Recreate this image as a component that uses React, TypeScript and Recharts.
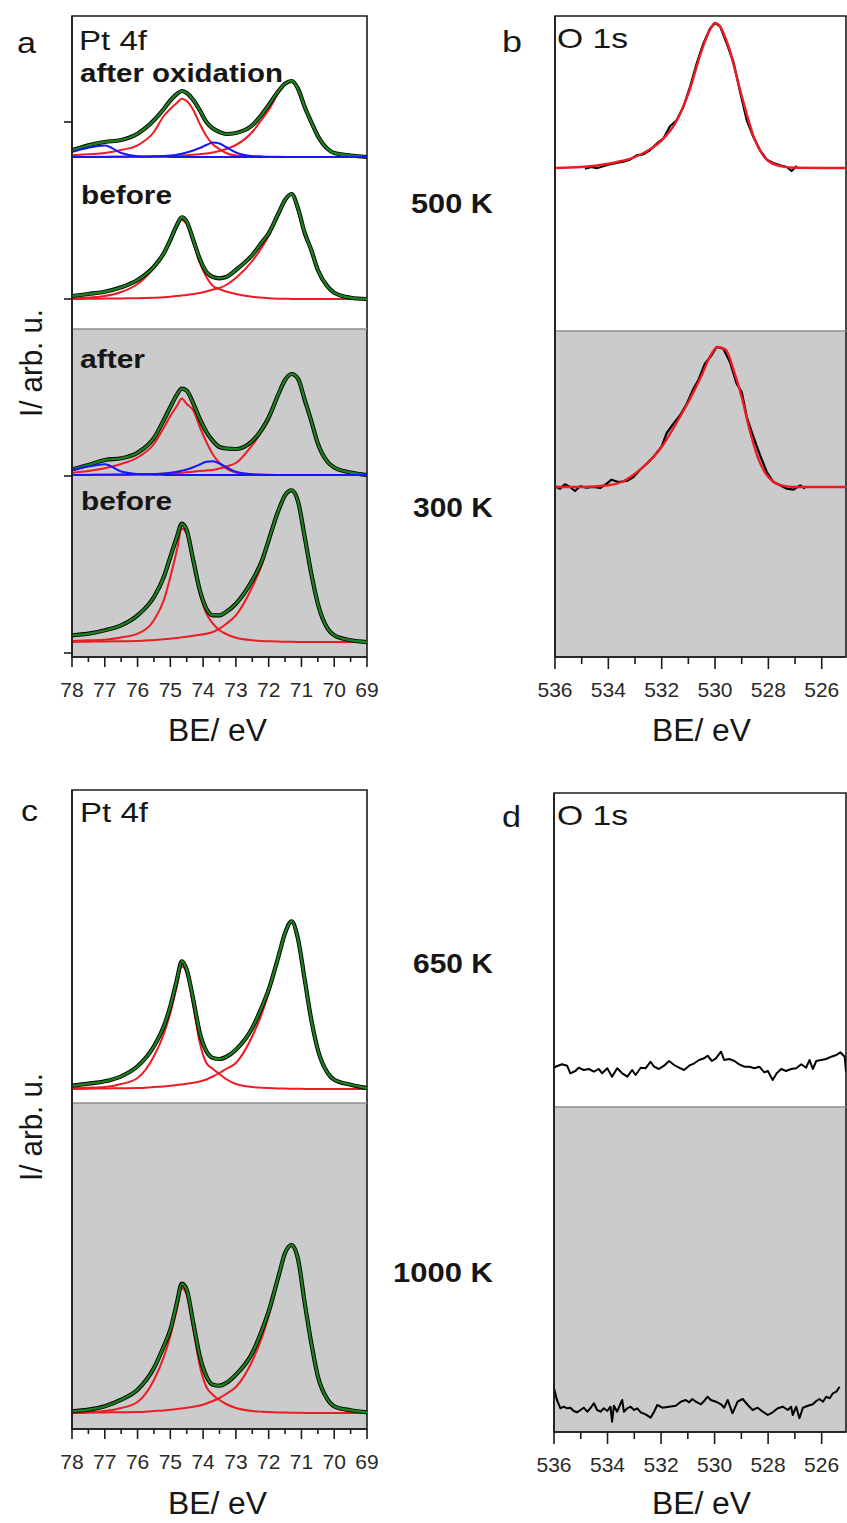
import { LineChart, Line, XAxis, YAxis, ReferenceArea, ReferenceLine } from 'recharts'

const FONT = '"Liberation Sans", Arial, sans-serif'

// ---- Pt 4f energy grid (eV) and tick marks ----
const PT_E = [78, 77.5, 77, 76.5, 76, 75.5, 75.2, 75, 74.8, 74.65, 74.5, 74.3, 74.1, 73.9, 73.7, 73.5, 73.3, 73, 72.5, 72.2, 72, 71.7, 71.5, 71.3, 71.1, 70.9, 70.7, 70.5, 70.2, 70, 69.5, 69]
const PT_TICKS = [78, 77.5, 77, 76.5, 76, 75.5, 75, 74.5, 74, 73.5, 73, 72.5, 72, 71.5, 71, 70.5, 70, 69.5, 69]
const O_TICKS = [536, 535, 534, 533, 532, 531, 530, 529, 528, 527, 526]

// ---- panel a, 500 K after oxidation ----
const A_OX_BASE = 500
const A_OX_SUM = [6.7, 11.7, 15, 17, 23.3, 36.7, 48, 56.5, 63, 66, 64, 57, 46.7, 35, 28.5, 25, 23, 24, 31.7, 43, 52, 66, 73.3, 76, 68, 50, 35, 21, 8, 4, 1.5, 0]
const A_OX_P52 = [1.7, 2.8, 4, 7, 11.7, 25, 41, 48, 54, 58.3, 56, 47, 33, 21, 12.5, 8, 4, 1.5, 0.7, 0.4, 0.3, 0.2, 0.1, 0, 0, 0, 0, 0, 0, 0, 0, 0]
const A_OX_P72 = [0, 0.1, 0.2, 0.3, 0.5, 0.7, 0.9, 1, 1.3, 1.5, 1.8, 2.2, 2.8, 3.5, 4.5, 6, 8, 12, 25, 38, 47, 64, 72, 75, 67.5, 49.5, 34.5, 20.5, 7.8, 3.8, 1.3, 0]
const A_OX_OA = [5, 9.3, 11.5, 4, 0.8, 0.3, 0.2, 0.1, 0.1, 0, 0, 0, 0, 0, 0, 0, 0, 0, 0, 0, 0, 0, 0, 0, 0, 0, 0, 0, 0, 0, 0, 0]
const A_OX_OB = [0, 0.1, 0.1, 0.2, 0.3, 0.7, 1, 1.5, 2.3, 3.3, 4.5, 6.5, 9, 12, 14.5, 13.5, 10, 4.5, 0.8, 0.3, 0.1, 0, 0, 0, 0, 0, 0, 0, 0, 0, 0, 0]

// ---- panel a, 500 K before ----
const A_BF_BASE = 358
const A_BF_SUM = [3, 5, 7.3, 11.7, 19, 32.3, 45.7, 59, 74, 81.7, 77.3, 59, 40, 27, 22, 20.7, 22, 29, 44, 57, 65.7, 85.7, 99, 105, 90, 66, 49, 29, 12.3, 6.3, 1.3, 0]
const A_BF_P52 = [0.5, 1.5, 3, 7, 15, 31, 44, 57, 72, 79, 75, 56, 36, 22, 13, 10, 7.5, 5, 2.3, 1.3, 0.7, 0.3, 0.2, 0.1, 0, 0, 0, 0, 0, 0, 0, 0]
const A_BF_P72 = [0, 0.2, 0.4, 0.6, 0.7, 1.2, 1.7, 2.3, 3, 3.5, 4, 5, 6, 7.5, 9.5, 11, 14, 21, 38, 52, 63, 84, 98, 104.5, 89.5, 65.5, 48.5, 28.7, 12, 6, 1.2, 0]

// ---- panel a, 300 K after oxidation ----
const B_OX_BASE = 182
const B_OX_SUM = [5.7, 10, 15, 16.7, 22.3, 37, 55, 68, 80.4, 86.3, 84.3, 71.6, 56, 43, 34, 28, 26.5, 26, 34, 46, 57.5, 81, 95, 101, 96, 75, 54, 31.5, 13, 7.5, 2.5, 0]
const B_OX_P52 = [2.3, 4, 6.7, 11, 17.5, 31, 47.3, 59, 69, 76.5, 71, 64.5, 48, 33, 20.5, 12, 6.5, 2.5, 0.7, 0.3, 0.2, 0.1, 0, 0, 0, 0, 0, 0, 0, 0, 0, 0]
const B_OX_P72 = [0, 0.2, 0.3, 0.5, 0.7, 1, 1.3, 1.6, 2, 2.3, 2.7, 3.3, 4, 4.6, 5, 6.5, 8.5, 12, 30, 44, 55, 80, 94, 100, 95.5, 74.5, 53.7, 31.3, 12.8, 7.3, 2.3, 0]
const B_OX_OA = [5, 8.5, 10.7, 3.5, 1, 0.3, 0.1, 0, 0, 0, 0, 0, 0, 0, 0, 0, 0, 0, 0, 0, 0, 0, 0, 0, 0, 0, 0, 0, 0, 0, 0, 0]
const B_OX_OB = [0, 0.1, 0.2, 0.3, 0.5, 1, 1.5, 2.3, 3.3, 4.3, 5.5, 7.8, 10.5, 13.3, 13.8, 11.5, 8, 3.3, 0.7, 0.3, 0.1, 0, 0, 0, 0, 0, 0, 0, 0, 0, 0, 0]

// ---- panel a, 300 K before ----
const B_BF_BASE = 15
const B_BF_SUM = [6.7, 8.3, 11.7, 16.7, 26.7, 45, 65, 85, 105, 118.3, 111.7, 81.7, 51.7, 33.3, 26.7, 26.7, 30, 38.3, 61.7, 81.7, 101.7, 131.7, 146.7, 151.7, 140, 105, 68.3, 38.3, 13.3, 6.7, 1.7, 0]
const B_BF_P52 = [1, 1.7, 2.3, 4.5, 8.3, 21.7, 41.7, 65, 91.7, 113.3, 108.3, 78.3, 48.3, 28.3, 18.3, 11.7, 8, 4.3, 1.7, 1, 0.7, 0.4, 0.3, 0.2, 0.1, 0, 0, 0, 0, 0, 0, 0]
const B_BF_P72 = [0, 0.3, 0.6, 0.8, 1, 2, 2.7, 3.3, 4, 4.7, 5.3, 6.2, 7.2, 8.3, 10, 13.3, 18, 26.7, 55, 78, 99, 130, 146, 151.5, 140, 105, 68.3, 38.3, 13.3, 6.7, 1.7, 0]

// ---- panel c, 650 K and 1000 K ----
const C650_BASE = 340
const C650_SUM = [3.3, 5.3, 7.7, 12.7, 22.7, 42.7, 62.7, 82.7, 109.3, 127.7, 119.3, 89.3, 56, 37.7, 31, 30, 32, 39.3, 61, 82.7, 99.3, 132.7, 156, 167.7, 149.3, 109.3, 69.3, 39.3, 16, 9.3, 4.3, 1]
const C650_P52 = [0.7, 1.3, 2, 5, 11, 32.7, 55, 76, 102.7, 122.7, 116, 82.7, 46, 26, 20, 15, 10, 5, 2, 1.3, 1, 0.6, 0.4, 0.3, 0.2, 0.1, 0, 0, 0, 0, 0, 0]
const C650_P72 = [0, 0.3, 0.5, 0.8, 1, 2, 2.6, 3.3, 4, 4.6, 5.2, 6.2, 7.5, 9.5, 12.5, 16, 20, 26, 52.7, 76, 96, 131, 155, 167, 148.5, 108.5, 68.5, 38.5, 15.3, 8.6, 3.6, 0.5]

const C1000_BASE = 16
const C1000_SUM = [1.7, 3.3, 6.7, 13.3, 23.3, 45, 66.7, 83.3, 110, 129.3, 123.3, 90, 56.7, 36.7, 28.3, 27.3, 30, 38.3, 60, 83.3, 101.7, 136.7, 160, 168, 153.3, 110, 70, 36.7, 13.3, 6.7, 2.7, 0.7]
const C1000_P52 = [0.5, 1, 2, 5, 11, 33, 56, 77, 104, 125, 118, 84, 47, 26, 18, 13, 9, 5, 2, 1.3, 1, 0.6, 0.4, 0.3, 0.2, 0.1, 0, 0, 0, 0, 0, 0]
const C1000_P72 = [0, 0.3, 0.5, 0.8, 1, 2, 2.6, 3.3, 4, 4.6, 5.2, 6.2, 7.5, 9.5, 12, 15, 19, 26, 52, 76, 97, 134, 158, 167, 152.5, 109.3, 69.3, 36, 12.7, 6, 2, 0]

// ---- panel b, O 1s at 500 K / 300 K ----
const O500_BASE = 489
const O500_FIT_E = [536, 535, 534, 533.5, 533, 532.5, 532, 531.5, 531, 530.5, 530.2, 530, 529.8, 529.5, 529, 528.5, 528.2, 528, 527.5, 527, 525.09]
const O500_FIT = [0, 1, 4.3, 7, 11, 17.7, 27.7, 44.3, 74.3, 117.7, 137.7, 145, 141, 122, 72, 27.7, 12.7, 7, 1.7, 0.3, 0]
const O500_E = [534.88, 534.63, 534.44, 534.19, 533.94, 533.69, 533.44, 533.19, 532.94, 532.69, 532.44, 532.19, 531.94, 531.69, 531.44, 531.19, 530.94, 530.69, 530.44, 530.19, 530, 529.81, 529.56, 529.31, 529.06, 528.81, 528.56, 528.31, 528.06, 527.81, 527.56, 527.31, 527.13, 526.94]
const O500_RAW = [-0.7, 1, -0.3, 1.7, 3.7, 5, 6.3, 8.3, 12.7, 13.7, 17.7, 24.3, 29.3, 41.7, 47.7, 61, 81, 104.3, 124.3, 139.3, 145, 141.7, 124.3, 106, 76, 47.7, 31, 17.7, 8.3, 5, 2.7, 1, -3, 2]

const O300_BASE = 170
const O300_FIT_E = [536, 535, 534, 533.5, 533, 532.5, 532, 531.5, 531, 530.5, 530.2, 529.9, 529.6, 529.3, 529, 528.7, 528.4, 528.1, 527.8, 527.5, 527, 525.09]
const O300_FIT = [0, 0, 1.7, 5, 13.3, 25, 40, 61.7, 85, 111.7, 130, 140, 137.3, 116.7, 90, 56.7, 30, 13.3, 5, 1.7, 0, 0]
const O300_E = [536, 535.81, 535.63, 535.44, 535.25, 535.06, 534.81, 534.56, 534.31, 534.06, 533.88, 533.63, 533.31, 533.06, 532.81, 532.56, 532.31, 532, 531.81, 531.56, 531.31, 531.06, 530.81, 530.63, 530.38, 530.13, 529.94, 529.69, 529.44, 529.19, 529, 528.81, 528.56, 528.31, 528.06, 527.81, 527.56, 527.31, 527.06, 526.81, 526.63]
const O300_RAW = [0.7, -1.7, 2.7, 0, -4, 0.7, -0.7, 0, -1, 3.3, 7.3, 5, 6, 10, 17.3, 23.3, 30, 40.7, 54, 63.3, 71.7, 83.3, 98.3, 106.7, 123.3, 131.7, 140, 138.3, 125, 103.3, 95, 70, 50, 31.7, 15, 5, 1.7, -1.7, -2.7, 1.7, -1.7]

// ---- panel d, O 1s at 650 K / 1000 K ----
const O650_BASE = 340
const O650_E = [536, 535.95, 535.7, 535.51, 535.39, 535.2, 535.08, 534.89, 534.7, 534.51, 534.33, 534.2, 534.01, 533.83, 533.64, 533.45, 533.26, 533.08, 532.95, 532.76, 532.58, 532.39, 532.26, 532.08, 531.89, 531.7, 531.51, 531.33, 531.14, 530.95, 530.76, 530.58, 530.39, 530.26, 530.1, 529.95, 529.76, 529.64, 529.45, 529.26, 529.08, 528.89, 528.7, 528.51, 528.33, 528.14, 528.01, 527.83, 527.68, 527.51, 527.33, 527.14, 526.95, 526.76, 526.58, 526.45, 526.33, 526.2, 526.01, 525.83, 525.64, 525.45, 525.3, 525.14, 525.09]
const O650_RAW = [23.7, 25.3, 27.7, 26.3, 18.7, 21, 24.3, 22, 23, 20.3, 23, 18.7, 23.7, 15.3, 23.7, 18.7, 15.3, 22, 17, 24.3, 23.7, 30.3, 25.3, 23, 26.3, 31, 27, 24.3, 22, 26.3, 28.7, 32, 33.7, 36.3, 31, 33.7, 40.3, 32, 33, 31, 27.7, 25.3, 25.3, 23.7, 25.3, 19.7, 21, 12, 18.7, 23, 21, 23, 23.7, 27.7, 24.3, 32, 23, 31, 32, 33, 35.3, 37, 39.7, 35.3, 20.3]

const O1000_BASE = 17
const O1000_E = [536, 535.89, 535.76, 535.64, 535.51, 535.39, 535.26, 535.14, 535.01, 534.89, 534.76, 534.64, 534.51, 534.39, 534.26, 534.14, 534.01, 533.89, 533.83, 533.76, 533.64, 533.51, 533.45, 533.39, 533.26, 533.14, 533.01, 532.89, 532.76, 532.58, 532.39, 532.26, 532.14, 531.95, 531.7, 531.45, 531.26, 531.08, 530.95, 530.83, 530.7, 530.51, 530.39, 530.26, 530.14, 529.95, 529.76, 529.64, 529.51, 529.33, 529.14, 528.95, 528.76, 528.58, 528.39, 528.2, 528.01, 527.83, 527.64, 527.45, 527.26, 527.14, 527.08, 526.95, 526.83, 526.7, 526.51, 526.33, 526.2, 526.08, 525.95, 525.83, 525.7, 525.58, 525.45, 525.33]
const O1000_RAW = [26.7, 15, 6.7, 8.3, 6.7, 7.3, 4, 2.7, 5, 7.3, 3.3, 6.7, 11.7, 5, 3.3, 6.7, 4, 8.3, -6.7, 9.3, 3.3, 11.7, 15, 3.3, 6.7, 8.3, 5, 6.7, 2.7, 0.7, -2.7, 3.3, 10, 7.3, 8.3, 9.3, 13.3, 15, 12.7, 16, 13.3, 10.7, 14, 18.3, 15, 13.3, 10.7, 7.3, 15, 1.7, 13.3, 16, 10, 5, 7.3, 3.3, 0, 2.7, 6.7, 8.3, 5, 8.3, 0, 8.3, -3.3, 7.3, 9.3, 10.7, 14, 16, 13.3, 18.3, 16.7, 21.7, 23.3, 28.3]

const GREEN = '#1d7f1d'
const RED = '#ee1b24'
const BLUE = '#1717ff'
const INK = '#1c1c1c'

type Pt = { x: number; y: number }
type Series = { data: Pt[]; color: string; width: number; curve?: 'monotone' | 'linear' }

const pts = (xs: number[], ys: number[], base: number): Pt[] => xs.map((x, i) => ({ x, y: base + ys[i] }))

// one stacked Pt 4f spectrum: fitted components, then data (black) and envelope (green), oxide peaks on top
function ptSpectrum(base: number, sum: number[], p52: number[], p72: number[], oxA?: number[], oxB?: number[]): Series[] {
  const s: Series[] = [
    { data: pts(PT_E, p52, base), color: RED, width: 2 },
    { data: pts(PT_E, p72, base), color: RED, width: 2 },
    { data: pts(PT_E, sum, base), color: '#000', width: 4.2 },
    { data: pts(PT_E, sum, base), color: GREEN, width: 2.4 },
  ]
  if (oxA) s.push({ data: pts(PT_E, oxA, base), color: BLUE, width: 2 })
  if (oxB) s.push({ data: pts(PT_E, oxB, base), color: BLUE, width: 2 })
  return s
}

const makeTick = (step: number, majorLen: number, minorLen: number) => (p: any) => {
  const v = p.payload.value
  const major = Math.abs(v / step - Math.round(v / step)) < 1e-6
  return (
    <g>
      <line x1={p.x} x2={p.x} y1={p.y} y2={p.y + (major ? majorLen : minorLen)} stroke={INK} strokeWidth={1.6} />
      {major && (
        <text x={p.x} y={p.y + 40} textAnchor="middle" fontSize={21} fill="#2a2a2a" fontFamily={FONT}>{v}</text>
      )}
    </g>
  )
}
const EmptyTick = () => <g />

type PanelProps = {
  left: number; top: number; width: number; height: number
  margin: { top: number; right: number; left: number; bottom: number }
  xDomain: [number, number]; xTicks: number[]; step: number; majorLen: number; minorLen: number
  yMax: number; yTicks?: number[]; greyTop: number; series: Series[]
}

function Panel(p: PanelProps) {
  return (
    <div style={{ position: 'absolute', left: p.left, top: p.top }}>
      <LineChart width={p.width} height={p.height} margin={p.margin}>
        <ReferenceArea x1={p.xDomain[0]} x2={p.xDomain[1]} y1={0} y2={p.greyTop} fill="#cbcbcb" fillOpacity={1} stroke="none" />
        <ReferenceLine y={p.greyTop} stroke="#8e8e8e" strokeWidth={1.5} />
        <XAxis
          type="number" dataKey="x" domain={p.xDomain} reversed allowDataOverflow
          ticks={p.xTicks} interval={0} height={45}
          tickSize={0} tickMargin={0} tickLine={false}
          tick={makeTick(p.step, p.majorLen, p.minorLen)}
          axisLine={{ stroke: INK, strokeWidth: 1.6 }}
        />
        <YAxis
          type="number" domain={[0, p.yMax]} allowDataOverflow width={12}
          ticks={p.yTicks ?? [0]} interval={0} tickSize={8}
          tickLine={p.yTicks ? { stroke: INK, strokeWidth: 1.6 } : false}
          tick={EmptyTick} axisLine={{ stroke: INK, strokeWidth: 1.6 }}
        />
        {p.series.map((s, i) => (
          <Line
            key={i} data={s.data} dataKey="y" type={s.curve ?? 'monotone'}
            stroke={s.color} strokeWidth={s.width} dot={false} activeDot={false}
            isAnimationActive={false} strokeLinejoin="round"
          />
        ))}
        <ReferenceArea x1={p.xDomain[0]} x2={p.xDomain[1]} y1={0} y2={p.yMax} fill="none" stroke={INK} strokeWidth={1.6} />
      </LineChart>
    </div>
  )
}

const seriesA: Series[] = [
  ...ptSpectrum(A_OX_BASE, A_OX_SUM, A_OX_P52, A_OX_P72, A_OX_OA, A_OX_OB),
  ...ptSpectrum(A_BF_BASE, A_BF_SUM, A_BF_P52, A_BF_P72),
  ...ptSpectrum(B_OX_BASE, B_OX_SUM, B_OX_P52, B_OX_P72, B_OX_OA, B_OX_OB),
  ...ptSpectrum(B_BF_BASE, B_BF_SUM, B_BF_P52, B_BF_P72),
]

const seriesB: Series[] = [
  { data: pts(O500_E, O500_RAW, O500_BASE), color: '#000', width: 2.2, curve: 'linear' },
  { data: pts(O500_FIT_E, O500_FIT, O500_BASE), color: RED, width: 2.4 },
  { data: pts(O300_E, O300_RAW, O300_BASE), color: '#000', width: 2.2, curve: 'linear' },
  { data: pts(O300_FIT_E, O300_FIT, O300_BASE), color: RED, width: 2.4 },
]

const seriesC: Series[] = [
  ...ptSpectrum(C650_BASE, C650_SUM, C650_P52, C650_P72),
  ...ptSpectrum(C1000_BASE, C1000_SUM, C1000_P52, C1000_P72),
]

const seriesD: Series[] = [
  { data: pts(O650_E, O650_RAW, O650_BASE), color: '#000', width: 2, curve: 'linear' },
  { data: pts(O1000_E, O1000_RAW, O1000_BASE), color: '#000', width: 2, curve: 'linear' },
]

function T({ x, y, w, size = 26, bold = false, anchor = 'start', children }: any) {
  return (
    <text x={x} y={y} fontSize={size} fontWeight={bold ? 700 : 400} textAnchor={anchor}
      textLength={w} lengthAdjust={w ? 'spacingAndGlyphs' : undefined} fill="#161616" fontFamily={FONT}>
      {children}
    </text>
  )
}

export default function App() {
  return (
    <div style={{ position: 'absolute', left: 0, top: 0, width: 847, height: 1523, background: '#fff', overflow: 'hidden' }}>
      <Panel left={0} top={0} width={380} height={702} margin={{ top: 16, right: 13, left: 60, bottom: 0 }}
        xDomain={[69, 78]} xTicks={PT_TICKS} step={1} majorLen={10} minorLen={5}
        yMax={641} yTicks={[4, 181, 358, 535]} greyTop={328} series={seriesA} />
      <Panel left={480} top={0} width={367} height={702} margin={{ top: 16, right: 1, left: 63, bottom: 0 }}
        xDomain={[525.09, 536]} xTicks={O_TICKS} step={2} majorLen={12} minorLen={7}
        yMax={641} greyTop={326} series={seriesB} />
      <Panel left={0} top={780} width={380} height={694} margin={{ top: 10, right: 13, left: 60, bottom: 0 }}
        xDomain={[69, 78]} xTicks={PT_TICKS} step={1} majorLen={10} minorLen={5}
        yMax={639} greyTop={326} series={seriesC} />
      <Panel left={480} top={780} width={367} height={697} margin={{ top: 13, right: 1, left: 62, bottom: 0 }}
        xDomain={[525.09, 536]} xTicks={O_TICKS} step={2} majorLen={12} minorLen={7}
        yMax={639} greyTop={325} series={seriesD} />

      <svg width={847} height={1523} style={{ position: 'absolute', left: 0, top: 0, pointerEvents: 'none' }}>
        <T x={17} y={53} size={30} w={19}>a</T>
        <T x={502} y={52} size={30} w={20}>b</T>
        <T x={21} y={821} size={30} w={17}>c</T>
        <T x={502} y={827} size={30} w={19}>d</T>

        <T x={79} y={50} size={27} w={68}>Pt 4f</T>
        <T x={80} y={822} size={27} w={68}>Pt 4f</T>
        <T x={557} y={48} size={28} w={71}>O 1s</T>
        <T x={557} y={825} size={28} w={71}>O 1s</T>

        <T x={80} y={82} w={203} bold>after oxidation</T>
        <T x={81} y={204} w={91} bold>before</T>
        <T x={80} y={368} w={65} bold>after</T>
        <T x={81} y={510} w={91} bold>before</T>

        <T x={493} y={213} w={82} size={27} bold anchor="end">500 K</T>
        <T x={493} y={517} w={80} size={27} bold anchor="end">300 K</T>
        <T x={493} y={973} w={80} size={27} bold anchor="end">650 K</T>
        <T x={493} y={1282} w={100} size={27} bold anchor="end">1000 K</T>

        <g transform="translate(42,363) rotate(-90)"><T x={0} y={0} size={31} w={108} anchor="middle">I/ arb. u.</T></g>
        <g transform="translate(42,1127) rotate(-90)"><T x={0} y={0} size={31} w={108} anchor="middle">I/ arb. u.</T></g>

        <T x={168} y={741} w={99} size={31}>BE/ eV</T>
        <T x={652} y={741} w={99} size={31}>BE/ eV</T>
        <T x={168} y={1514} w={99} size={31}>BE/ eV</T>
        <T x={652} y={1514} w={99} size={31}>BE/ eV</T>
      </svg>
    </div>
  )
}
